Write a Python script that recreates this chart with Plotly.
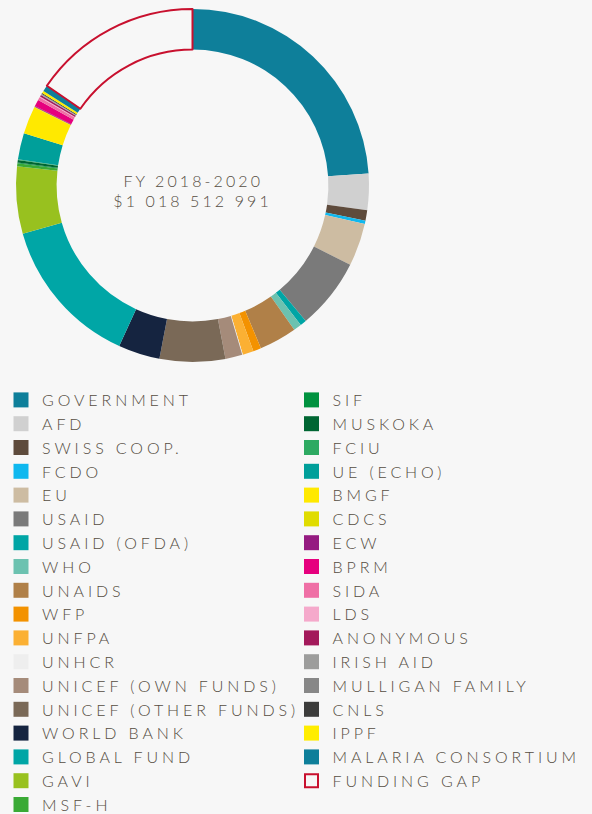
import plotly.graph_objects as go

# ---------------- data ----------------
donors = [
    "GOVERNMENT", "AFD", "SWISS COOP.", "FCDO", "EU", "USAID", "USAID (OFDA)", "WHO",
    "UNAIDS", "WFP", "UNFPA", "UNHCR", "UNICEF (OWN FUNDS)", "UNICEF (OTHER FUNDS)",
    "WORLD BANK", "GLOBAL FUND", "GAVI", "MSF-H", "SIF", "MUSKOKA", "FCIU", "UE (ECHO)",
    "BMGF", "CDCS", "ECW", "BPRM", "SIDA", "LDS", "ANONYMOUS", "IRISH AID",
    "MULLIGAN FAMILY", "CNLS", "IPPF", "MALARIA CONSORTIUM", "FUNDING GAP",
]
# amounts in millions of USD (estimated from the chart)
amounts_musd = [
    243.6, 33.9, 9.6, 3.1, 39.9, 66.2, 5.9, 7.4,
    35.1, 7.4, 10.2, 0.6, 15.8, 61.1,
    38.8, 140.3, 62.5, 2.8, 0.8, 2.3, 0.6, 24.6,
    25.7, 0.6, 0.8, 6.2, 2.8, 0.8, 1.7, 0.6,
    0.6, 0.8, 2.3, 5.7, 157.3,
]
colors = [
    "#0e7f9a", "#d0d0d0", "#5e4b3c", "#0fb8ef", "#cdbca2", "#7a7a7a", "#00a5a5", "#6cc2b0",
    "#b08048", "#f39200", "#fbb033", "#eeeeee", "#a58b7a", "#7a6957",
    "#152440", "#00a6a6", "#98c11f", "#3aaa35", "#00923f", "#006633", "#2eaa62", "#009f9a",
    "#ffe900", "#e0dc00", "#951b81", "#e6007e", "#ef6fa5", "#f5a9cb", "#a3195b", "#9d9d9c",
    "#878787", "#3c3c3b", "#ffed00", "#0e7f9a", "#f7f7f7",
]
center_lines = ["FY 2018-2020", "$1 018 512 991"]
first_column_count = 18

BG = "#f7f7f7"
TXT = "#554d42"
GAP_RED = "#c8102e"
FONT = "Lato, 'Noto Sans', sans-serif"

W, H = 592, 814

line_colors = [GAP_RED if d == "FUNDING GAP" else c for d, c in zip(donors, colors)]
line_widths = [2 if d == "FUNDING GAP" else 0 for d in donors]

fig = go.Figure()

# donut
cx, cy, R = 192.5, 185.5, 176.5
fig.add_trace(go.Pie(
    labels=donors,
    values=amounts_musd,
    sort=False,
    direction="clockwise",
    rotation=0,
    hole=0.77,
    marker=dict(colors=colors, line=dict(color=line_colors, width=line_widths)),
    textinfo="none",
    hoverinfo="label+value+percent",
    showlegend=False,
    domain=dict(x=[(cx - R) / W, (cx + R) / W], y=[1 - (cy + R) / H, 1 - (cy - R) / H]),
))

# legend entries (two columns)
for i, (d, c) in enumerate(zip(donors, colors)):
    gap = d == "FUNDING GAP"
    fig.add_trace(go.Scatter(
        x=[None], y=[None], mode="markers", name=d,
        marker=dict(symbol="square", size=13 if gap else 15, color=BG if gap else c,
                    line=dict(color=GAP_RED if gap else c, width=2 if gap else 0)),
        legend="legend" if i < first_column_count else "legend2",
        hoverinfo="skip",
    ))

leg_common = dict(
    font=dict(family=FONT, size=16, color=TXT, weight=300),
    bgcolor="rgba(0,0,0,0)", borderwidth=0, xanchor="left", yanchor="top",
    orientation="v", itemsizing="trace", itemwidth=32,
    itemclick=False, itemdoubleclick=False,
)

fig.update_layout(
    width=W, height=H,
    margin=dict(l=0, r=0, t=0, b=0, autoexpand=False),
    paper_bgcolor=BG, plot_bgcolor=BG,
    xaxis=dict(visible=False), yaxis=dict(visible=False),
    legend=dict(x=0.0, y=1 - 383 / H, **leg_common),
    legend2=dict(x=290.5 / W, y=1 - 383 / H, **leg_common),
    annotations=[
        dict(text=center_lines[0], x=cx / W, y=1 - 181 / H, xref="paper", yref="paper",
             showarrow=False, xanchor="center", yanchor="middle",
             font=dict(family=FONT, size=16, color=TXT, weight=300)),
        dict(text=center_lines[1], x=cx / W, y=1 - 201 / H, xref="paper", yref="paper",
             showarrow=False, xanchor="center", yanchor="middle",
             font=dict(family=FONT, size=16, color=TXT, weight=300)),
    ],
)

post = """
var st = document.createElement('style');
st.textContent = 'body{margin:0 !important;} ' +
  '.legendtext, .legend2text{letter-spacing:3.9px !important;} ' +
  '.annotation-text{letter-spacing:3.1px !important;} ' +
  '.scrollbox{clip-path:none !important;}';
document.head.appendChild(st);
"""

fig.write_html("out.html", post_script=post, config={"displayModeBar": False})
